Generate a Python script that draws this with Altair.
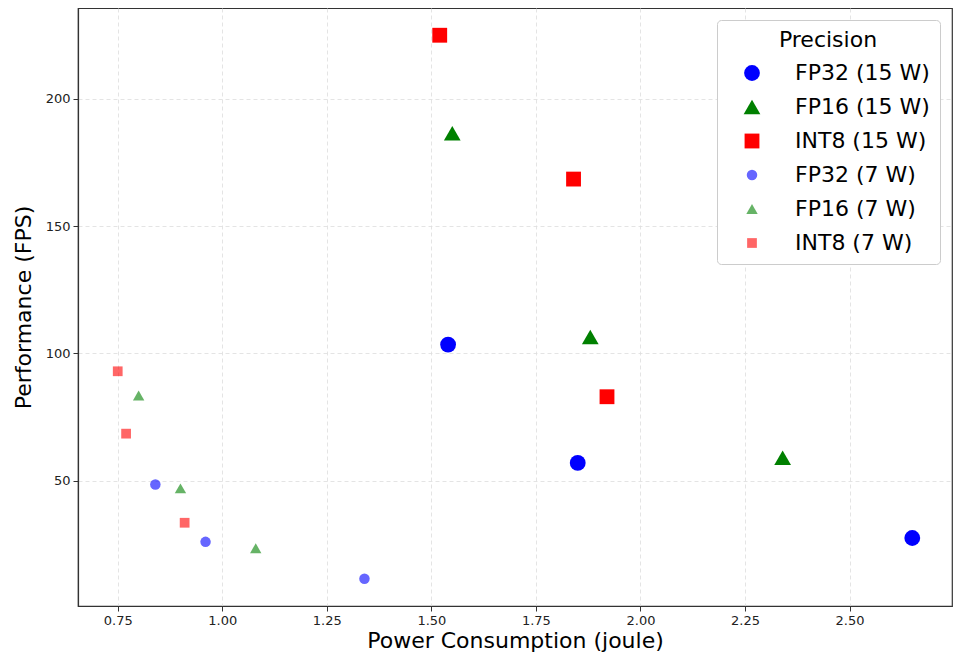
import altair as alt
import pandas as pd

series_order = ["FP32 (15 W)", "FP16 (15 W)", "INT8 (15 W)",
                "FP32 (7 W)", "FP16 (7 W)", "INT8 (7 W)"]

fp32_15_x = [1.54, 1.85, 2.65]
fp32_15_y = [103.5, 57.0, 27.5]
fp16_15_x = [1.55, 1.88, 2.34]
fp16_15_y = [186.5, 106.5, 59.0]
int8_15_x = [1.52, 1.84, 1.92]
int8_15_y = [225.0, 168.5, 83.0]
fp32_7_x = [0.84, 0.96, 1.34]
fp32_7_y = [48.5, 26.0, 11.5]
fp16_7_x = [0.80, 0.90, 1.08]
fp16_7_y = [83.5, 47.0, 23.5]
int8_7_x = [0.75, 0.77, 0.91]
int8_7_y = [93.0, 68.5, 33.5]

xs = [fp32_15_x, fp16_15_x, int8_15_x, fp32_7_x, fp16_7_x, int8_7_x]
ys = [fp32_15_y, fp16_15_y, int8_15_y, fp32_7_y, fp16_7_y, int8_7_y]

rows = []
for name, sx, sy in zip(series_order, xs, ys):
    for a, b in zip(sx, sy):
        rows.append({"series": name, "power": a, "fps": b})
df = pd.DataFrame(rows)

colors = ["#0000ff", "#008000", "#ff0000", "#0000ff", "#008000", "#ff0000"]
shapes = ["circle", "triangle-up", "square", "circle", "triangle-up", "square"]
sizes = [250, 280, 220, 110, 130, 95]
opacities = [1, 1, 1, 0.6, 0.6, 0.6]

FONT = "DejaVu Sans"
leg = alt.Legend(title="Precision")

chart = alt.Chart(df).mark_point(filled=True, strokeWidth=1).encode(
    x=alt.X("power:Q", title="Power Consumption (joule)",
            scale=alt.Scale(domain=[0.655, 2.745], nice=False, zero=False),
            axis=alt.Axis(values=[0.75, 1.0, 1.25, 1.5, 1.75, 2.0, 2.25, 2.5], format=".2f")),
    y=alt.Y("fps:Q", title="Performance (FPS)",
            scale=alt.Scale(domain=[0.8, 235.7], nice=False, zero=False),
            axis=alt.Axis(values=[50, 100, 150, 200])),
    color=alt.Color("series:N", scale=alt.Scale(domain=series_order, range=colors),
                    legend=leg),
    shape=alt.Shape("series:N", scale=alt.Scale(domain=series_order, range=shapes),
                    legend=leg),
    size=alt.Size("series:N", scale=alt.Scale(type="ordinal", domain=series_order, range=sizes),
                  legend=leg),
    opacity=alt.Opacity("series:N", scale=alt.Scale(type="ordinal", domain=series_order, range=opacities),
                        legend=leg),
).properties(
    width=874, height=598,
    autosize="none",
    padding={"left": 70, "top": 0, "right": 2, "bottom": 50},
).configure_view(
    stroke="#333333", strokeWidth=1.2
).configure_axis(
    labelFont=FONT, titleFont=FONT, labelFontSize=13, titleFontSize=22,
    titleFontWeight="normal", labelColor="#222222", titleColor="#000000",
    domainColor="#333333", domainWidth=1.2, tickColor="#333333", tickSize=5,
    grid=True, gridColor="#dddddd", gridDash=[4, 3], gridWidth=0.8,
    labelPadding=3,
).configure_axisX(
    titlePadding=3
).configure_axisY(
    titlePadding=10
).configure_legend(
    orient="top-right", offset=12, padding=10,
    fillColor="white", strokeColor="#cccccc", cornerRadius=4,
    titleFont=FONT, labelFont=FONT, titleFontSize=22, labelFontSize=22,
    titleFontWeight="normal", titleColor="#000000", labelColor="#000000",
    titleAnchor="middle", titlePadding=10, rowPadding=12, labelOffset=32,
    symbolOffset=14, symbolStrokeWidth=1,
)

chart.save("out.html", embed_options={"renderer": "svg", "actions": False})
